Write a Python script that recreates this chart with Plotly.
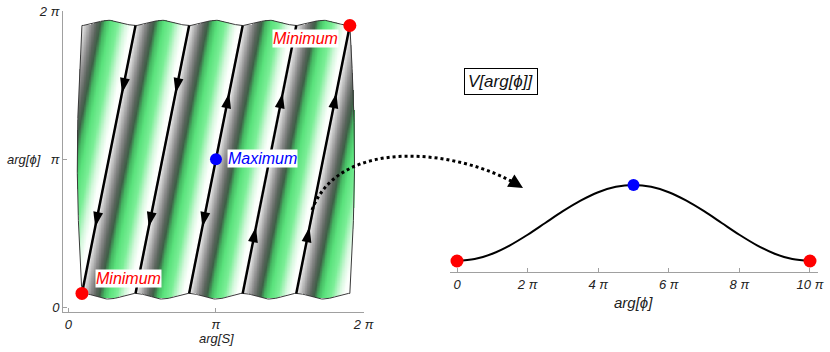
import numpy as np
import plotly.graph_objects as go

W, H = 830, 352

# ---- values ----
# left panel: five straight path segments (arg[S] at the bottom / top end, radians)
seg_s_bottom = [0.29, 1.43, 2.57, 3.71, 4.85]
seg_s_top = [1.43, 2.57, 3.71, 4.85, 5.99]
phi_bottom = 0.29
phi_top = 5.99
# arrowheads: arg[phi] where they sit, and direction (+1 up / -1 down) per segment
arrow_phi = [1.70, 4.55]
arrow_dir_low = [-1, -1, -1, 1, 1]
arrow_dir_high = [-1, -1, 1, 1, 1]
# extrema in the (arg[S], arg[phi]) plane
min_s = [0.29, 5.99]
min_phi = [0.29, 5.99]
max_s = [np.pi]
max_phi = [np.pi]

left_tickvals = [0, np.pi, 2 * np.pi]
left_ticktext = ["0", "π", "2 π"]

# right panel: V along the path, sampled every pi/2 (normalised 0..1)
theta_halfpi = list(range(21))
V_vals = [0.0, 0.025, 0.095, 0.206, 0.345, 0.5, 0.655, 0.794, 0.905, 0.976, 1.0,
          0.976, 0.905, 0.794, 0.655, 0.5, 0.345, 0.206, 0.095, 0.025, 0.0]
right_tickvals = [0, 2 * np.pi, 4 * np.pi, 6 * np.pi, 8 * np.pi, 10 * np.pi]
right_ticktext = ["0", "2 π", "4 π", "6 π", "8 π", "10 π"]


def px(x):
    return x / W


def py(y):
    return 1 - y / H


FONT = "Liberation Sans, Arial, sans-serif"

# ---- background stripes (phase measured from each path segment) ----
a = phi_bottom
d = seg_s_top[0] - seg_s_bottom[0]
slope = (phi_top - phi_bottom) / d
wave_top, wave_bot, bow = 0.11, 0.12, 0.10


def top_edge(x):
    return phi_top + wave_top * np.sin(np.pi * (x - a) / d) ** 2


def bot_edge(x):
    return phi_bottom - wave_bot * np.sin(np.pi * (x - a) / d) ** 2


def left_edge(y):
    return seg_s_bottom[0] - bow * np.sin(np.pi * (y - a) / (phi_top - a))


def right_edge(y):
    return seg_s_top[-1] + bow * np.sin(np.pi * (y - a) / (phi_top - a))


gx = np.linspace(0.12, 6.18, 400)
gy = np.linspace(0.12, 6.20, 400)
X, Y = np.meshgrid(gx, gy)
phase = (((X - a) - (Y - a) / slope) / d) % 1
inside = (Y >= bot_edge(X)) & (Y <= top_edge(X)) & (X >= left_edge(Y)) & (X <= right_edge(Y))
Z = np.where(inside, phase, np.nan)

stripe_scale = [
    [0.00, "#f2f2f2"], [0.08, "#c4c4c4"], [0.18, "#8a8a8a"], [0.27, "#5a645c"],
    [0.34, "#3e5f46"], [0.42, "#45b862"], [0.52, "#5ae27c"], [0.66, "#7aee96"],
    [0.80, "#d5f8dd"], [0.90, "#fbfffb"], [1.00, "#ffffff"],
]

fig = go.Figure()
fig.add_trace(go.Heatmap(x=gx, y=gy, z=Z, zmin=0, zmax=1, colorscale=stripe_scale,
                         showscale=False, hoverinfo="skip", xaxis="x", yaxis="y"))

# outline of the wavy region
xs = np.linspace(seg_s_bottom[0], seg_s_top[-1], 200)
ys = np.linspace(phi_bottom, phi_top, 200)
ox = np.concatenate([xs, right_edge(ys), xs[::-1], left_edge(ys[::-1])])
oy = np.concatenate([bot_edge(xs), ys, top_edge(xs[::-1]), ys[::-1]])
fig.add_trace(go.Scatter(x=ox, y=oy, mode="lines", line=dict(color="#3a3a3a", width=1),
                         hoverinfo="skip", xaxis="x", yaxis="y"))

# path segments
lx, ly = [], []
for s0, s1 in zip(seg_s_bottom, seg_s_top):
    lx += [s0, s1, None]
    ly += [phi_bottom, phi_top, None]
fig.add_trace(go.Scatter(x=lx, y=ly, mode="lines", line=dict(color="black", width=2.5),
                         hoverinfo="skip", xaxis="x", yaxis="y"))

# arrowheads
ang = np.degrees(np.arctan(1 / slope))
ax_, ay_, aa = [], [], []
for i, s0 in enumerate(seg_s_bottom):
    for p, dirs in zip(arrow_phi, [arrow_dir_low, arrow_dir_high]):
        ax_.append(s0 + (p - phi_bottom) / slope)
        ay_.append(p)
        aa.append(ang if dirs[i] > 0 else 180 + ang)
fig.add_trace(go.Scatter(x=ax_, y=ay_, mode="markers",
                         marker=dict(symbol="arrow", size=16, angle=aa, color="black",
                                     line=dict(width=0)),
                         hoverinfo="skip", xaxis="x", yaxis="y"))

# extrema
fig.add_trace(go.Scatter(x=min_s, y=min_phi, mode="markers", cliponaxis=False,
                         marker=dict(size=13, color="#ff0000"), xaxis="x", yaxis="y"))
fig.add_trace(go.Scatter(x=max_s, y=max_phi, mode="markers", cliponaxis=False,
                         marker=dict(size=12, color="#0000ff"), xaxis="x", yaxis="y"))

# ---- right panel ----
theta = np.array(theta_halfpi) * np.pi / 2
fig.add_trace(go.Scatter(x=theta, y=V_vals, mode="lines", line=dict(color="black", width=2, shape="spline"),
                         xaxis="x2", yaxis="y2", cliponaxis=False))
fig.add_trace(go.Scatter(x=[theta[0], theta[-1]], y=[V_vals[0], V_vals[-1]], mode="markers",
                         marker=dict(size=13, color="#ff0000"), xaxis="x2", yaxis="y2", cliponaxis=False))
fig.add_trace(go.Scatter(x=[theta[10]], y=[V_vals[10]], mode="markers",
                         marker=dict(size=12, color="#0000ff"), xaxis="x2", yaxis="y2", cliponaxis=False))

axis_style = dict(showline=True, linecolor="#a0a0a0", linewidth=1, ticks="inside", ticklen=4,
                  tickcolor="#a0a0a0", showgrid=False, zeroline=False, automargin=False,
                  tickfont=dict(family=FONT, size=13, color="#222222", style="italic"))

fig.update_layout(
    template="none",
    width=W, height=H, margin=dict(l=0, r=0, t=0, b=0, pad=0, autoexpand=False),
    paper_bgcolor="white", plot_bgcolor="white", showlegend=False,
    xaxis=dict(domain=[px(63), px(364)], range=[-0.113, 6.291], anchor="y",
               tickvals=left_tickvals, ticktext=left_ticktext, **axis_style),
    yaxis=dict(domain=[py(312), py(11)], range=[-0.106, 6.298], anchor="x",
               tickvals=left_tickvals, ticktext=left_ticktext, **axis_style),
    xaxis2=dict(domain=[px(450), px(818)], range=[-0.623, 32.13], anchor="y2",
                tickvals=right_tickvals, ticktext=right_ticktext, **axis_style),
    yaxis2=dict(domain=[py(272), py(172)], range=[-0.145, 1.171], anchor="x2", visible=False),
)

lab_font = dict(family=FONT, size=16, style="italic")
ax_font = dict(family=FONT, size=13, color="#222222", style="italic")
annotations = [
    dict(x=min_s[0], y=min_phi[0], xref="x", yref="y", text="Minimum", showarrow=False,
         xanchor="left", yanchor="middle", xshift=13, yshift=15, bgcolor="white", borderpad=0,
         font=dict(color="#ff0000", **lab_font)),
    dict(x=min_s[1], y=min_phi[1], xref="x", yref="y", text="Minimum", showarrow=False,
         xanchor="right", yanchor="middle", xshift=-11, yshift=-13, bgcolor="white", borderpad=0,
         font=dict(color="#ff0000", **lab_font)),
    dict(x=max_s[0], y=max_phi[0], xref="x", yref="y", text="Maximum", showarrow=False,
         xanchor="left", yanchor="middle", xshift=11, yshift=1, bgcolor="white", borderpad=0,
         font=dict(color="#0000ff", **lab_font)),
    dict(x=px(216), y=py(338), xref="paper", yref="paper", text="arg[S]", showarrow=False,
         xanchor="center", yanchor="middle", font=ax_font),
    dict(x=px(24), y=py(159), xref="paper", yref="paper", text="arg[ϕ]", showarrow=False,
         xanchor="center", yanchor="middle", font=ax_font),
    dict(x=px(633), y=py(302), xref="paper", yref="paper", text="arg[ϕ]", showarrow=False,
         xanchor="center", yanchor="middle", font=dict(ax_font, size=15)),
    dict(x=px(501), y=py(82), xref="paper", yref="paper", text="V[arg[ϕ]]", showarrow=False,
         xanchor="center", yanchor="middle",
         bordercolor="black", borderwidth=1, borderpad=3, bgcolor="white",
         font=dict(family=FONT, size=17, color="#111111", style="italic")),
    dict(x=px(523), y=py(188), xref="paper", yref="paper", text="", showarrow=True,
         ax=-15, ay=-9, arrowhead=2, arrowsize=1.3, arrowwidth=2.2, arrowcolor="black"),
]
fig.update_layout(annotations=annotations)

fig.add_shape(type="path", xref="paper", yref="paper",
              path=f"M {px(312)},{py(210)} C {px(340)},{py(135)} {px(460)},{py(150)} {px(518)},{py(185)}",
              line=dict(color="black", width=3, dash="dot"))

fig.write_html("out.html", config={"displayModeBar": False},
               post_script="document.body.style.margin='0';")
